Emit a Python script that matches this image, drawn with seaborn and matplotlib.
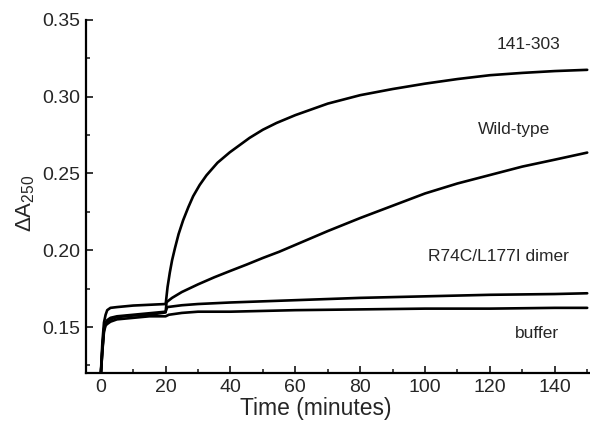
import numpy as np
import pandas as pd
import seaborn as sns
import matplotlib.pyplot as plt
from matplotlib.ticker import MultipleLocator

# time before the addition at 20 min (shared by all four traces)
t_pre = [0, 0.5, 1, 1.5, 2, 3, 5, 10, 15, 20]
pre_141 = [0.118, 0.140, 0.153, 0.158, 0.161, 0.1625, 0.163, 0.164, 0.1645, 0.165]
pre_wt = [0.118, 0.135, 0.148, 0.152, 0.1535, 0.155, 0.1565, 0.1575, 0.158, 0.1595]
pre_dimer = [0.118, 0.136, 0.149, 0.153, 0.1545, 0.156, 0.157, 0.158, 0.159, 0.160]
pre_buffer = [0.118, 0.134, 0.147, 0.151, 0.152, 0.1535, 0.155, 0.156, 0.157, 0.157]

# after 20 min
t_141 = [20.1, 20.6, 21.3, 22, 22.9, 24, 25.4, 27, 28.5, 30.5, 32.6, 36, 39.8,
         45.9, 50, 54.2, 60, 70, 80, 90, 100, 110, 120, 130, 140, 150]
y_141 = [0.1664, 0.176, 0.1855, 0.1935, 0.2015, 0.2105, 0.2195, 0.228, 0.2352,
         0.2425, 0.2488, 0.257, 0.2638, 0.2732, 0.2785, 0.2829, 0.288, 0.2955,
         0.301, 0.305, 0.3085, 0.3115, 0.314, 0.3155, 0.3167, 0.3175]

t_wt = [20.3, 22, 25, 30, 35, 40, 45, 50, 55, 60, 70, 80, 90, 100, 110, 120, 130, 140, 150]
y_wt = [0.1662, 0.169, 0.1728, 0.1778, 0.1824, 0.1866, 0.1907, 0.195, 0.199, 0.2035,
        0.2125, 0.221, 0.229, 0.237, 0.2435, 0.249, 0.2545, 0.259, 0.2636]

t_dimer = [20.5, 25, 30, 40, 60, 80, 100, 120, 140, 150]
y_dimer = [0.163, 0.1642, 0.165, 0.166, 0.1675, 0.169, 0.170, 0.171, 0.1715, 0.172]

t_buffer = [21, 25, 30, 40, 60, 80, 100, 120, 140, 150]
y_buffer = [0.158, 0.1592, 0.160, 0.160, 0.161, 0.1615, 0.162, 0.162, 0.1625, 0.1625]

labels = ['141-303', 'Wild-type', 'R74C/L177I dimer', 'buffer']
label_x = [132, 127.5, 122.6, 134.6]
label_y = [0.3338, 0.2786, 0.196, 0.146]

series = {
    '141-303': (t_pre + t_141, pre_141 + y_141),
    'Wild-type': (t_pre + t_wt, pre_wt + y_wt),
    'R74C/L177I dimer': (t_pre + t_dimer, pre_dimer + y_dimer),
    'buffer': (t_pre + t_buffer, pre_buffer + y_buffer),
}
df = pd.concat([pd.DataFrame({'Time': t, 'A250': y, 'Sample': name})
                for name, (t, y) in series.items()], ignore_index=True)

sns.set_style("white")
plt.rcParams['font.family'] = ['Liberation Sans', 'DejaVu Sans']
plt.rcParams['mathtext.default'] = 'regular'

fig = plt.figure(figsize=(5.9, 4.24), dpi=100)
ax = fig.add_axes([0.146, 0.12, 0.852, 0.833])
sns.lineplot(data=df, x='Time', y='A250', hue='Sample', palette=['black'] * 4,
             estimator=None, sort=False, linewidth=1.9, legend=False, ax=ax)

ax.set_xlim(-4.5, 150.5)
ax.set_ylim(0.12, 0.35)
ax.xaxis.set_major_locator(MultipleLocator(20))
ax.xaxis.set_minor_locator(MultipleLocator(10))
ax.yaxis.set_major_locator(MultipleLocator(0.05))
ax.yaxis.set_minor_locator(MultipleLocator(0.025))
ax.set_xticks(range(0, 141, 20))
ax.yaxis.set_major_formatter(plt.FormatStrFormatter('%.2f'))

sns.despine(ax=ax)
for side in ['left', 'bottom']:
    ax.spines[side].set_linewidth(1.6)
    ax.spines[side].set_color('black')
ax.tick_params(axis='both', which='major', direction='in', length=5, width=1.3,
               labelsize=14, pad=4, left=True, bottom=True)
ax.tick_params(axis='both', which='minor', direction='in', length=3, width=1.2,
               left=True, bottom=True)

ax.set_xlabel('Time (minutes)', fontsize=16.5)
ax.set_ylabel('ΔA$_{250}$', fontsize=16)
ax.xaxis.set_label_coords(0.456, -0.068)
ax.xaxis.label.set_va('top')
ax.yaxis.set_label_coords(-0.098, 0.48)

for text, x, y in zip(labels, label_x, label_y):
    ax.text(x, y, text, fontsize=12.5, ha='center', va='center')

fig.savefig('out.png', dpi=100)
